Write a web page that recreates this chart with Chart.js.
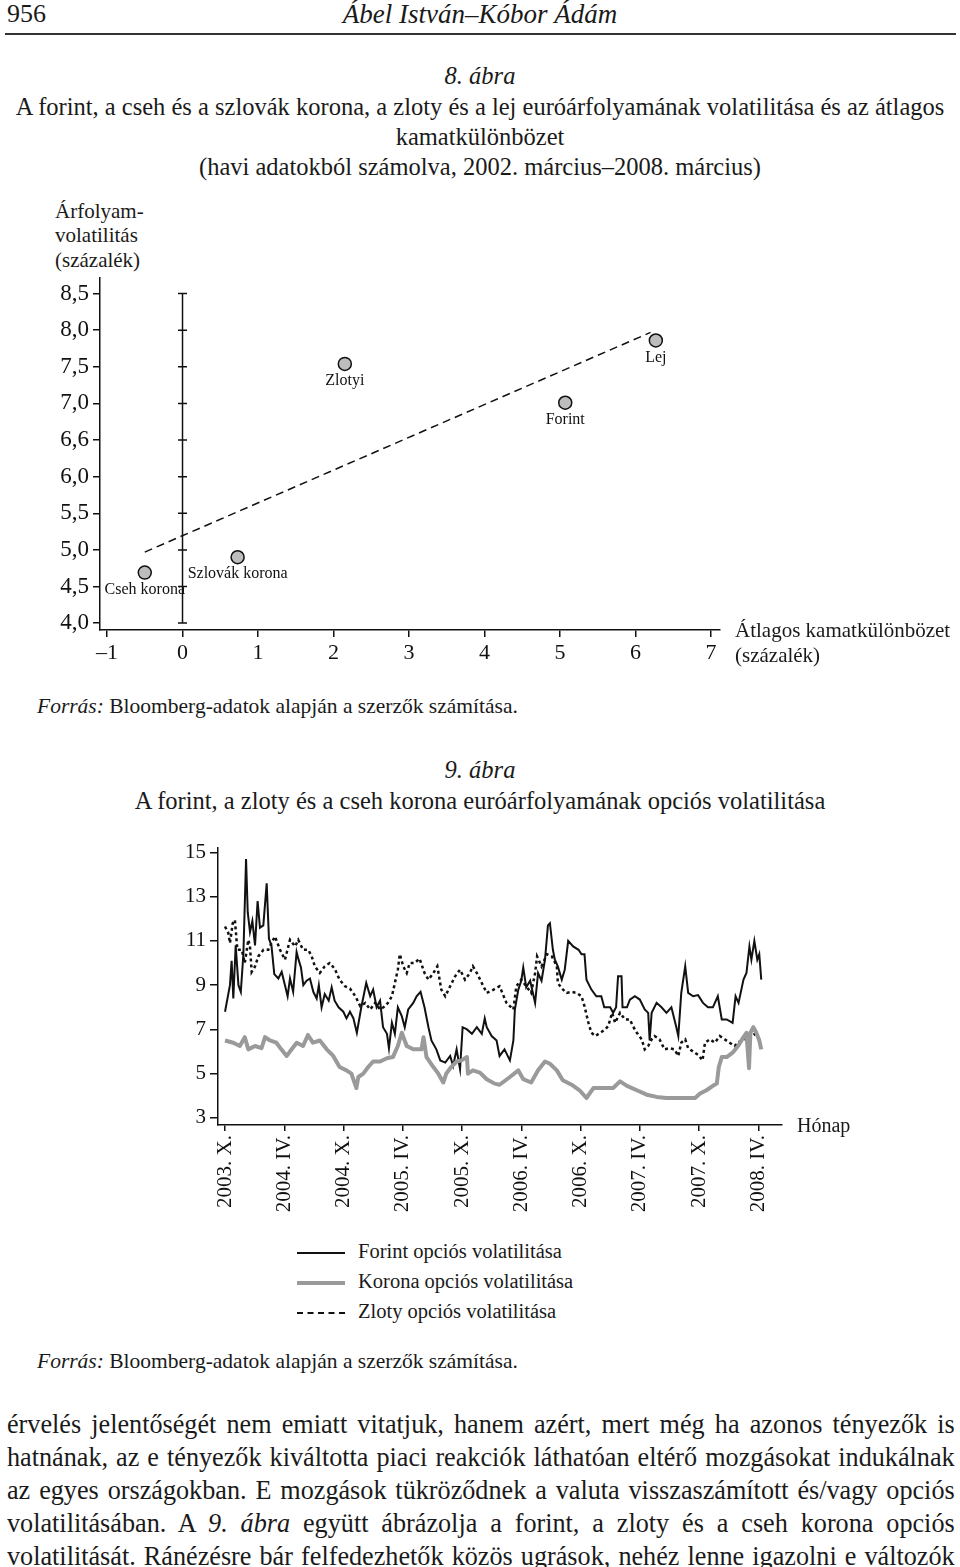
<!DOCTYPE html>
<html lang="hu">
<head>
<meta charset="utf-8">
<script src="https://cdn.jsdelivr.net/npm/chart.js@4.4.1/dist/chart.umd.min.js"></script>
<style>
  body { margin: 0; width: 960px; height: 1567px; overflow: hidden; background: #fff; position: relative;
         font-family: "Liberation Serif", "Times New Roman", serif; color: #1a1a1a; }
  .t { position: absolute; line-height: 1; white-space: nowrap; }
  .k { left: 0; width: 960px; text-align: center; }
  .sor { position: absolute; left: 7px; width: 977px; font-size: 27px; line-height: 1; text-align: justify;
         text-align-last: justify; transform: scaleX(0.97); transform-origin: 0 0; }
  i { font-style: italic; }
  canvas { position: absolute; left: 0; }
  .minta { position: absolute; left: 297px; width: 48px; height: 0; }
</style>
</head>
<body>

<div class="t" style="left:7px;top:1px;font-size:26px">956</div>
<div class="t k" style="top:1px;font-size:27px"><i>Ábel István–Kóbor Ádám</i></div>
<div style="position:absolute;left:5px;top:33px;width:951px;height:2px;background:#333"></div>

<div class="t k" style="top:64px;font-size:24.5px"><i>8. ábra</i></div>
<div class="t k" style="top:95px;font-size:24.5px">A forint, a cseh és a szlovák korona, a zloty és a lej euróárfolyamának volatilitása és az átlagos</div>
<div class="t k" style="top:125px;font-size:24.5px">kamatkülönbözet</div>
<div class="t k" style="top:155px;font-size:24.5px">(havi adatokból számolva, 2002. március–2008. március)</div>

<div class="t" style="left:55px;top:201px;font-size:21px">Árfolyam-</div>
<div class="t" style="left:55px;top:225px;font-size:21px">volatilitás</div>
<div class="t" style="left:55px;top:250px;font-size:21px">(százalék)</div>

<canvas id="abra8" width="960" height="420" style="top:260px"></canvas>

<div class="t" style="left:735px;top:620px;font-size:21px">Átlagos kamatkülönbözet</div>
<div class="t" style="left:735px;top:645px;font-size:21px">(százalék)</div>

<div class="t" style="left:37px;top:696px;font-size:21.5px"><i>Forrás:</i> Bloomberg-adatok alapján a szerzők számítása.</div>

<div class="t k" style="top:758px;font-size:24.5px"><i>9. ábra</i></div>
<div class="t k" style="top:789px;font-size:24.5px">A forint, a zloty és a cseh korona euróárfolyamának opciós volatilitása</div>

<canvas id="abra9" width="960" height="400" style="top:830px"></canvas>

<div class="t" style="left:797px;top:1115px;font-size:20px">Hónap</div>

<div class="minta" style="top:1252px;border-top:2px solid #111"></div>
<div class="t" style="left:358px;top:1241px;font-size:20.5px">Forint opciós volatilitása</div>
<div class="minta" style="top:1281px;border-top:4px solid #9a9a9a"></div>
<div class="t" style="left:358px;top:1271px;font-size:20.5px">Korona opciós volatilitása</div>
<div class="minta" style="top:1312px;border-top:2px dashed #111"></div>
<div class="t" style="left:358px;top:1301px;font-size:20.5px">Zloty opciós volatilitása</div>

<div class="t" style="left:37px;top:1351px;font-size:21.5px"><i>Forrás:</i> Bloomberg-adatok alapján a szerzők számítása.</div>

<div class="sor" style="top:1411px">érvelés jelentőségét nem emiatt vitatjuk, hanem azért, mert még ha azonos tényezők is</div>
<div class="sor" style="top:1444px">hatnának, az e tényezők kiváltotta piaci reakciók láthatóan eltérő mozgásokat indukálnak</div>
<div class="sor" style="top:1477px">az egyes országokban. E mozgások tükröződnek a valuta visszaszámított és/vagy opciós</div>
<div class="sor" style="top:1510px">volatilitásában. A <i>9. ábra</i> együtt ábrázolja a forint, a zloty és a cseh korona opciós</div>
<div class="sor" style="top:1543px">volatilitását. Ránézésre bár felfedezhetők közös ugrások, nehéz lenne igazolni e változók</div>

<script>
// 8. ábra adatai
const orszagok = ['Cseh korona', 'Szlovák korona', 'Zlotyi', 'Forint', 'Lej'];
const kamatkulonbozet = [-0.5, 0.73, 2.15, 5.07, 6.27];
const arfolyamVolatilitas = [4.69, 4.9, 7.54, 7.01, 7.86];
const trendVonal = [[-0.5, 4.97], [6.2, 7.97]];
const yErtekek8 = [4.0, 4.5, 5.0, 5.5, 6.0, 6.5, 7.0, 7.5, 8.0, 8.5];
const yFeliratok8 = ['4,0', '4,5', '5,0', '5,5', '6,0', '6,6', '7,0', '7,5', '8,0', '8,5'];
const xErtekek8 = [-1, 0, 1, 2, 3, 4, 5, 6, 7];
const xFeliratok8 = ['–1', '0', '1', '2', '3', '4', '5', '6', '7'];

// 9. ábra adatai: [hónap 2003. X. óta, volatilitás]
const honapok = [0, 6, 12, 18, 24, 30, 36, 42, 48, 54];
const honapFeliratok = ['2003. X.', '2004. IV.', '2004. X.', '2005. IV.', '2005. X.', '2006. IV.', '2006. X.', '2007. IV.', '2007. X.', '2008. IV.'];
const yErtekek9 = [3, 5, 7, 9, 11, 13, 15];

const forint = [[0,7.8],[0.5,9.0],[0.67,10.1],[0.84,8.4],[1.08,10.8],[1.36,9.0],[1.6,8.7],[1.86,10.4],[2.13,14.7],[2.3,12.3],
  [2.53,11.4],[2.77,11.9],[3.04,10.8],[3.3,12.8],[3.54,11.6],[3.88,11.7],[4.22,13.6],[4.45,11.1],[4.7,10.8],[4.99,9.5],
  [5.4,9.3],[5.74,9.6],[6.07,9.0],[6.34,8.5],[6.58,9.3],[6.9,8.7],[7.25,10.5],[7.42,10.2],[7.69,9.8],[7.93,9.0],
  [8.26,9.2],[8.6,9.3],[8.94,8.7],[9.28,8.4],[9.5,9.0],[9.78,8.0],[10.1,8.6],[10.5,8.3],[10.8,8.9],[11.1,8.3],
  [11.5,8.0],[11.98,7.8],[12.3,7.5],[12.65,7.8],[13.0,7.5],[13.35,6.85],[13.8,8.0],[14.3,9.1],[14.7,8.5],[15.0,8.8],
  [15.35,8.0],[15.7,8.3],[16.0,7.1],[16.4,6.8],[16.6,6.15],[16.9,7.3],[17.2,6.8],[17.5,8.0],[17.9,7.6],[18.2,7.1],
  [18.55,7.9],[19.06,8.2],[19.4,8.5],[19.8,8.7],[20.2,8.0],[20.6,7.1],[20.9,6.5],[21.4,6.1],[21.8,5.6],[22.3,5.5],
  [22.8,5.8],[23.1,5.35],[23.45,6.1],[23.8,5.2],[24.06,7.1],[24.5,7.0],[25.0,6.8],[25.5,7.1],[26.0,6.8],[26.3,7.5],
  [26.5,7.1],[27.0,6.7],[27.5,6.5],[27.8,5.8],[28.3,6.1],[28.85,5.6],[29.2,6.5],[29.35,7.9],[29.7,8.8],[30.0,9.2],
  [30.2,9.8],[30.5,8.9],[30.9,9.2],[31.4,8.2],[31.7,9.55],[32.05,9.2],[32.4,10.15],[32.7,11.7],[32.9,11.8],[33.2,10.6],
  [33.4,10.15],[33.7,9.85],[34.1,9.25],[34.4,9.7],[34.75,11.0],[35.25,10.75],[35.8,10.6],[36.1,10.4],[36.4,10.4],[36.6,9.25],
  [37.1,8.8],[37.6,8.5],[38.1,8.5],[38.4,8.0],[39.0,8.0],[39.3,7.75],[39.6,8.0],[39.8,9.4],[40.15,9.4],[40.25,8.0],
  [40.7,8.0],[41.0,8.35],[41.5,8.5],[42.0,8.35],[42.5,7.9],[42.85,7.75],[43.0,6.5],[43.2,7.75],[43.7,8.2],[44.2,8.0],
  [44.7,7.75],[45.2,8.0],[45.7,7.1],[45.9,6.7],[46.2,8.65],[46.6,9.85],[46.9,8.65],[47.4,8.5],[47.9,8.55],[48.4,8.2],
  [48.9,8.0],[49.4,8.0],[49.9,8.5],[50.3,7.45],[50.8,7.45],[51.4,7.3],[51.7,8.5],[52.0,8.2],[52.5,9.25],[52.8,9.55],
  [53.1,10.75],[53.3,10.15],[53.6,11.0],[53.9,10.15],[54.1,10.4],[54.3,9.25]];

const korona = [[0,6.5],[0.84,6.4],[1.5,6.25],[2.0,6.65],[2.36,6.1],[3.04,6.25],[3.7,6.15],[4.05,6.65],[4.55,6.5],[5.2,6.4],
  [5.7,6.1],[6.24,5.8],[6.75,6.1],[7.26,6.4],[7.9,6.25],[8.4,6.75],[8.9,6.4],[9.6,6.5],[10.3,6.1],[10.96,5.8],
  [11.6,5.3],[12.3,5.15],[12.8,5.0],[13.3,4.35],[13.5,4.85],[14.0,5.0],[14.5,5.3],[15.0,5.55],[15.7,5.55],[16.4,5.7],
  [17.0,5.75],[17.5,6.25],[17.9,6.85],[18.4,6.25],[19.06,6.1],[19.9,6.1],[20.1,6.65],[20.4,5.75],[21.1,5.3],[21.6,5.0],
  [22.1,4.6],[22.4,5.0],[22.9,5.3],[23.45,5.55],[23.95,5.6],[24.5,5.75],[24.6,5.0],[25.1,5.15],[25.8,5.05],[26.5,4.75],
  [27.3,4.55],[27.8,4.5],[28.85,4.85],[29.7,5.15],[30.2,4.75],[31.0,4.6],[31.7,5.15],[32.4,5.55],[32.9,5.45],[33.6,5.15],
  [34.2,4.7],[35.1,4.5],[35.9,4.25],[36.6,3.9],[37.3,4.35],[38.3,4.35],[39.3,4.35],[40.0,4.65],[40.7,4.45],[41.7,4.25],
  [42.7,4.05],[43.7,3.95],[44.7,3.9],[45.7,3.9],[46.7,3.9],[47.6,3.9],[48.1,4.1],[48.75,4.25],[49.4,4.45],[49.8,4.55],
  [50.0,5.3],[50.3,5.75],[50.8,5.75],[51.4,5.95],[51.95,6.25],[52.5,6.65],[52.8,6.85],[53.06,5.25],[53.2,6.85],[53.5,7.1],
  [53.8,6.85],[54.1,6.5],[54.3,6.1]];

const zloty = [[0,11.65],[0.34,11.35],[0.5,10.9],[0.78,11.8],[1.0,11.95],[1.25,10.6],[1.7,10.6],[2.0,10.0],[2.36,11.05],[2.53,10.75],
  [2.7,9.6],[3.04,9.85],[3.37,10.3],[3.9,10.6],[4.38,10.6],[4.7,10.9],[5.06,11.2],[5.57,10.6],[6.07,10.15],[6.58,11.05],
  [7.1,10.75],[7.42,11.05],[7.9,10.6],[8.43,10.6],[8.78,10.3],[9.1,9.85],[9.6,9.55],[10.1,9.85],[10.6,10.0],[11.1,9.75],
  [11.6,9.25],[12.15,8.95],[12.65,8.85],[13.2,8.5],[13.7,8.05],[14.2,8.2],[14.7,7.9],[15.2,8.2],[15.7,7.9],[16.2,8.05],
  [16.5,8.2],[16.9,8.5],[17.2,9.1],[17.5,9.7],[17.7,10.4],[18.05,9.85],[18.4,9.55],[18.7,10.0],[19.2,10.0],[19.7,10.2],
  [20.2,9.55],[20.6,9.25],[21.1,9.55],[21.5,9.85],[21.9,8.8],[22.3,8.5],[22.8,8.95],[23.3,9.4],[23.8,9.7],[24.3,9.25],
  [24.8,9.55],[25.1,9.85],[25.5,9.55],[26.0,9.1],[26.5,8.65],[27.2,8.8],[27.8,8.95],[28.5,8.2],[29.2,7.9],[29.5,8.95],
  [30.0,9.25],[30.5,8.95],[31.0,8.65],[31.4,9.55],[31.6,10.3],[32.05,9.85],[32.6,10.4],[33.1,10.3],[33.6,9.85],[33.7,9.1],
  [34.1,8.85],[34.6,8.65],[35.1,8.7],[35.6,8.65],[36.1,8.5],[36.4,8.05],[36.8,7.3],[37.1,6.85],[37.5,6.7],[38.0,6.85],
  [38.5,7.0],[38.8,7.15],[39.2,7.75],[39.5,7.3],[40.0,7.75],[40.5,7.45],[41.0,7.45],[41.3,7.15],[41.7,6.85],[42.2,6.55],
  [42.5,6.1],[42.85,6.25],[43.2,6.55],[43.5,6.7],[44.0,6.55],[44.5,6.1],[45.0,6.15],[45.5,6.1],[45.9,5.8],[46.2,6.4],
  [46.6,6.55],[46.9,6.15],[47.4,6.0],[47.9,5.85],[48.35,5.6],[48.6,6.4],[49.1,6.55],[49.6,6.4],[50.1,6.7],[50.6,6.55],
  [51.1,6.4],[51.6,6.25],[52.1,6.45],[52.6,6.55],[52.9,6.7],[53.5,6.85],[54.0,6.6],[54.3,6.45]];

const betu = 'Liberation Serif';
const fekete = '#111';

function tengely(ertekek, feliratok, meret, extra) {
  return Object.assign({
    type: 'linear',
    afterBuildTicks: s => { s.ticks = ertekek.map(v => ({ value: v })); },
    grid: { display: true, drawOnChartArea: false, drawTicks: true, tickLength: 7, color: fekete, lineWidth: 1.5 },
    border: { display: true, color: fekete, width: 1.5 },
    ticks: { color: fekete, font: { family: betu, size: meret }, autoSkip: false,
             callback: (v, i) => feliratok[i] }
  }, extra);
}

// pontfeliratok és a nulla-tengely a 8. ábrán
const feliratokEsNulla = {
  id: 'feliratokEsNulla',
  afterDatasetsDraw(chart) {
    const { ctx, scales: { x, y } } = chart;
    ctx.save();
    ctx.fillStyle = fekete;
    ctx.font = '16px "' + betu + '"';
    ctx.textAlign = 'center';
    ctx.textBaseline = 'middle';
    orszagok.forEach((n, i) => {
      ctx.fillText(n, x.getPixelForValue(kamatkulonbozet[i]), y.getPixelForValue(arfolyamVolatilitas[i]) + 17);
    });
    const x0 = x.getPixelForValue(0);
    ctx.strokeStyle = fekete;
    ctx.lineWidth = 1.5;
    ctx.beginPath();
    ctx.moveTo(x0, y.getPixelForValue(yErtekek8[0]));
    ctx.lineTo(x0, y.getPixelForValue(yErtekek8[yErtekek8.length - 1]));
    yErtekek8.forEach(v => {
      const py = y.getPixelForValue(v);
      ctx.moveTo(x0 - 4.5, py);
      ctx.lineTo(x0 + 4.5, py);
    });
    ctx.stroke();
    ctx.restore();
  }
};

new Chart(document.getElementById('abra8'), {
  type: 'scatter',
  data: {
    datasets: [
      {
        type: 'line',
        data: trendVonal.map(p => ({ x: p[0], y: p[1] })),
        borderColor: fekete, borderWidth: 1.5, borderDash: [8, 5],
        pointRadius: 0, fill: false
      },
      {
        data: kamatkulonbozet.map((v, i) => ({ x: v, y: arfolyamVolatilitas[i] })),
        backgroundColor: '#bdbdbd', borderColor: fekete, borderWidth: 1.5, pointRadius: 6.5
      }
    ]
  },
  options: {
    responsive: false, animation: false,
    layout: { padding: { left: 40, top: 13, right: 240, bottom: 0 } },
    plugins: { legend: { display: false }, tooltip: { enabled: false } },
    scales: {
      x: tengely(xErtekek8, xFeliratok8, 22, {
        min: -1.093, max: 7.12, position: 'bottom',
        afterFit: s => { s.height = 50; },
        ticks: { color: fekete, font: { family: betu, size: 22 }, padding: 3, autoSkip: false, maxRotation: 0,
                 callback: (v, i) => xFeliratok8[i] }
      }),
      y: tengely(yErtekek8, yFeliratok8, 23, {
        min: 3.906, max: 8.716,
        afterFit: s => { s.width = 60; },
        ticks: { color: fekete, font: { family: betu, size: 23 }, padding: 4, autoSkip: false,
                 callback: (v, i) => yFeliratok8[i] }
      })
    }
  },
  plugins: [feliratokEsNulla]
});

const pontok = sor => sor.map(p => ({ x: p[0], y: p[1] }));

new Chart(document.getElementById('abra9'), {
  type: 'line',
  data: {
    datasets: [
      { label: 'Korona opciós volatilitása', data: pontok(korona), borderColor: '#9a9a9a', borderWidth: 4,
        pointRadius: 0, tension: 0, borderJoinStyle: 'round' },
      { label: 'Zloty opciós volatilitása', data: pontok(zloty), borderColor: fekete, borderWidth: 2.5,
        borderDash: [3, 3], pointRadius: 0, tension: 0 },
      { label: 'Forint opciós volatilitása', data: pontok(forint), borderColor: fekete, borderWidth: 2,
        pointRadius: 0, tension: 0 }
    ]
  },
  options: {
    responsive: false, animation: false,
    layout: { padding: { left: 140, top: 18, right: 178, bottom: 0 } },
    plugins: { legend: { display: false }, tooltip: { enabled: false } },
    scales: {
      x: tengely(honapok, honapFeliratok, 21, {
        min: -0.71, max: 56.4, position: 'bottom',
        afterFit: s => { s.height = 105; },
        grid: { display: true, drawOnChartArea: false, drawTicks: true, tickLength: 6, color: fekete, lineWidth: 1.5 },
        ticks: { color: fekete, font: { family: betu, size: 21 }, padding: 4, autoSkip: false,
                 minRotation: 90, maxRotation: 90, callback: (v, i) => honapFeliratok[i] }
      }),
      y: tengely(yErtekek9, yErtekek9.map(String), 21, {
        min: 2.68, max: 15.2,
        afterFit: s => { s.width = 78; },
        grid: { display: true, drawOnChartArea: false, drawTicks: true, tickLength: 8, color: fekete, lineWidth: 1.5 },
        ticks: { color: fekete, font: { family: betu, size: 21 }, padding: 4, autoSkip: false,
                 callback: (v, i) => String(yErtekek9[i]) }
      })
    }
  }
});
</script>
</body>
</html>
